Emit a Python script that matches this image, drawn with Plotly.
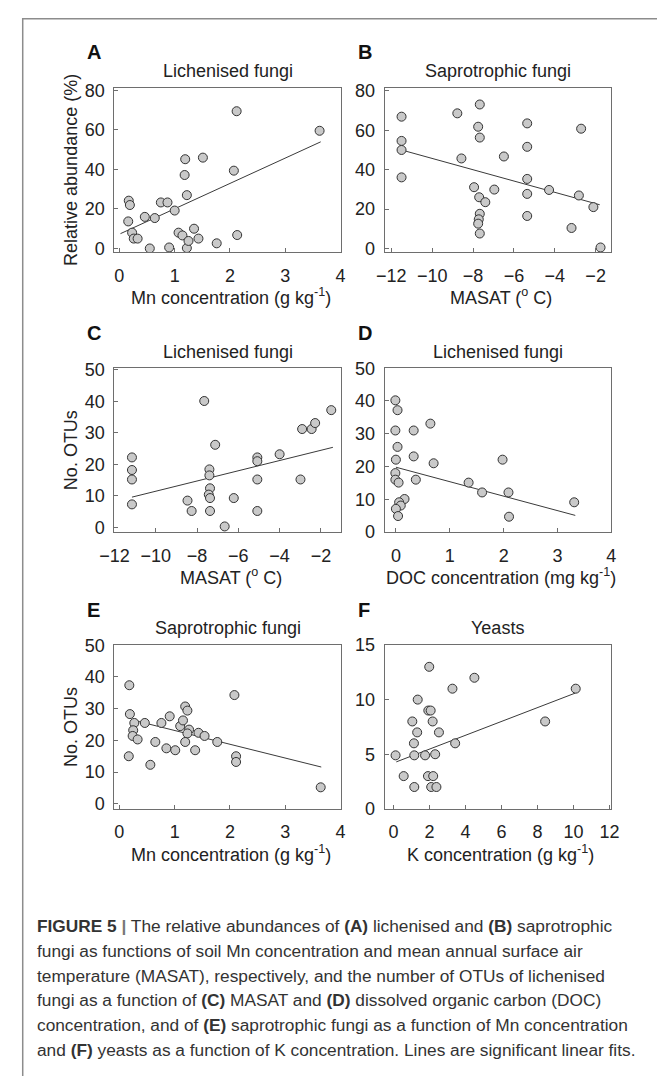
import plotly.graph_objects as go

W, H = 657, 1076

# ---------------- data ----------------
# A: Lichenised fungi relative abundance vs Mn
A_x = [0.17, 0.19, 0.16, 0.23, 0.26, 0.33, 0.46, 0.64, 0.55, 0.75, 0.87, 0.90, 1.00, 1.07,
       1.14, 1.19, 1.18, 1.22, 1.22, 1.25, 1.35, 1.43, 1.51, 1.76, 2.07, 2.12, 2.13, 3.62]
A_y = [24.2, 22.0, 13.7, 8.0, 5.0, 5.0, 16.0, 15.4, 0.0, 23.3, 23.3, 0.5, 19.2, 8.0,
       6.6, 45.2, 37.2, 27.0, 0.2, 3.8, 10.0, 5.0, 46.0, 2.6, 39.4, 69.5, 6.8, 59.6]
A_fit_x = [0.02, 3.64]
A_fit_y = [7.5, 54.0]

# B: Saprotrophic fungi relative abundance vs MASAT
B_x = [-11.5, -11.5, -11.5, -11.5, -8.77, -8.57, -7.67, -7.75, -7.67, -7.95, -7.70, -7.40,
       -7.67, -7.72, -7.75, -7.67, -6.96, -6.49, -5.35, -5.35, -5.35, -5.35, -5.35, -4.28,
       -2.82, -3.18, -2.71, -2.11, -1.76]
B_y = [66.9, 54.6, 50.0, 36.1, 68.6, 45.7, 73.1, 61.8, 56.3, 31.1, 26.0, 23.5,
       17.6, 14.8, 12.6, 7.6, 29.9, 46.7, 63.5, 51.6, 35.3, 27.7, 16.5, 29.7,
       26.9, 10.4, 60.8, 21.0, 0.5]
B_fit_x = [-11.5, -1.8]
B_fit_y = [50.0, 22.2]

# C: Lichenised fungi OTUs vs MASAT
C_x = [-11.15, -11.15, -11.15, -11.15, -7.65, -7.12, -7.40, -7.40, -7.37, -7.43, -7.37,
       -8.46, -8.26, -7.37, -6.22, -5.08, -5.08, -5.08, -5.08, -4.00, -2.99, -2.91,
       -2.45, -2.28, -1.50, -6.66]
C_y = [22.2, 18.2, 15.2, 7.3, 40.1, 26.2, 18.4, 16.5, 12.4, 10.4, 9.3,
       8.5, 5.2, 5.2, 9.3, 22.2, 21.0, 15.2, 5.2, 23.2, 15.2, 31.2,
       31.2, 33.1, 37.2, 0.3]
C_fit_x = [-11.15, -1.42]
C_fit_y = [9.6, 25.4]

# D: Lichenised fungi OTUs vs DOC
D_x = [-0.01, 0.03, -0.01, 0.33, 0.64, 0.03, 0.00, 0.33, 0.70, 1.98, -0.01, -0.01,
       0.05, 0.37, 1.35, 1.60, 2.09, 3.31, 0.16, 0.06, 0.09, 0.00, 0.04, 2.10]
D_y = [40.2, 37.2, 31.0, 31.0, 33.1, 26.0, 22.1, 23.1, 21.0, 22.1, 18.0, 16.0,
       15.1, 16.0, 15.1, 12.1, 12.1, 9.1, 10.1, 9.1, 8.1, 7.1, 4.9, 4.7]
D_fit_x = [0.0, 3.33]
D_fit_y = [19.8, 5.1]

# E: Saprotrophic fungi OTUs vs Mn
E_x = [0.18, 0.19, 0.27, 0.25, 0.24, 0.33, 0.17, 0.46, 0.56, 0.65, 0.76, 0.85, 0.91,
       1.01, 1.10, 1.15, 1.19, 1.23, 1.26, 1.23, 1.19, 1.37, 1.43, 1.54, 1.77, 2.08,
       2.11, 2.11, 3.64]
E_y = [37.4, 28.3, 25.5, 23.2, 21.4, 20.3, 15.0, 25.5, 12.3, 19.5, 25.5, 17.5, 27.6,
       16.9, 24.5, 26.3, 30.7, 29.4, 23.4, 22.2, 19.5, 16.9, 22.4, 21.4, 19.5, 34.3,
       15.0, 13.2, 5.2]
E_fit_x = [0.27, 3.65]
E_fit_y = [26.3, 11.6]

# F: Yeasts OTUs vs K
F_x = [1.98, 4.49, 3.27, 10.12, 1.34, 1.93, 2.06, 1.04, 2.17, 8.42, 1.31, 2.52, 1.13, 3.42,
       0.11, 1.15, 1.75, 2.31, 0.56, 1.91, 2.20, 1.15, 2.09, 2.38]
F_y = [13.0, 12.0, 11.0, 11.0, 10.0, 9.0, 9.0, 8.0, 8.0, 8.0, 7.0, 7.0, 6.0, 6.0,
       4.9, 4.9, 4.9, 5.0, 3.0, 3.0, 3.0, 2.0, 2.0, 2.0]
F_fit_x = [0.15, 10.1]
F_fit_y = [4.3, 10.6]

titles = ["Lichenised fungi", "Saprotrophic fungi", "Lichenised fungi",
          "Lichenised fungi", "Saprotrophic fungi", "Yeasts"]
letters = ["A", "B", "C", "D", "E", "F"]
x_titles = ["Mn concentration (g kg<sup>-1</sup>)", "MASAT (<sup>o</sup> C)",
            "MASAT (<sup>o</sup> C)", "DOC concentration (mg kg<sup>-1</sup>)",
            "Mn concentration (g kg<sup>-1</sup>)", "K concentration (g kg<sup>-1</sup>)"]
y_titles = ["Relative abundance (%)", None, "No. OTUs", None, "No. OTUs", None]
x_ticks = [[0, 1, 2, 3, 4], [-12, -10, -8, -6, -4, -2], [-12, -10, -8, -6, -4, -2],
           [0, 1, 2, 3, 4], [0, 1, 2, 3, 4], [0, 2, 4, 6, 8, 10, 12]]
y_ticks = [[0, 20, 40, 60, 80], [0, 20, 40, 60, 80], [0, 10, 20, 30, 40, 50],
           [0, 10, 20, 30, 40, 50], [0, 10, 20, 30, 40, 50], [0, 5, 10, 15]]

caption_lines = [
    "<b>FIGURE 5</b> <b><span style='color:#777777'>|</span></b> The relative abundances of <b>(A)</b> lichenised and <b>(B)</b> saprotrophic",
    "fungi as functions of soil Mn concentration and mean annual surface air",
    "temperature (MASAT), respectively, and the number of OTUs of lichenised",
    "fungi as a function of <b>(C)</b> MASAT and <b>(D)</b> dissolved organic carbon (DOC)",
    "concentration, and of <b>(E)</b> saprotrophic fungi as a function of Mn concentration",
    "and <b>(F)</b> yeasts as a function of K concentration. Lines are significant linear fits.",
]

# ---------------- layout geometry (pixels) ----------------
cols = [(103, 338), (383, 618)]
rows = [(79, 247), (365, 532), (647, 814)]
x_ranges = [[-0.09, 4.01], [-12.33, -1.23], [-12.0, -1.02], [-0.21, 4.0], [-0.09, 4.01], [-0.5, 12.1]]
y_ranges = [[-2, 81.5], [-2, 81.7], [-1.5, 50.5], [0, 50], [-1.6, 50.1], [0, 15]]

data = [(A_x, A_y, A_fit_x, A_fit_y), (B_x, B_y, B_fit_x, B_fit_y),
        (C_x, C_y, C_fit_x, C_fit_y), (D_x, D_y, D_fit_x, D_fit_y),
        (E_x, E_y, E_fit_x, E_fit_y), (F_x, F_y, F_fit_x, F_fit_y)]

FONT = "Liberation Sans, Arial, sans-serif"
TXT = "#222222"
AXC = "#6e6e6e"

def px(x):
    return x / W

def py(y):
    return 1 - y / H

fig = go.Figure()
annotations = []
layout_axes = {}

for i, (xs, ys, fx, fy) in enumerate(data):
    r, c = divmod(i, 2)
    x0, x1 = cols[c]
    y0, y1 = rows[r]
    sfx = "" if i == 0 else str(i + 1)
    fig.add_trace(go.Scatter(x=fx, y=fy, mode="lines", line=dict(color="#3a3a3a", width=1),
                             xaxis="x" + sfx, yaxis="y" + sfx, showlegend=False, hoverinfo="skip"))
    fig.add_trace(go.Scatter(x=xs, y=ys, mode="markers",
                             marker=dict(size=9, color="#c9c9c9", line=dict(color="#333333", width=1)),
                             xaxis="x" + sfx, yaxis="y" + sfx, showlegend=False))
    common = dict(showline=True, mirror=True, linecolor=AXC, linewidth=1, ticks="inside",
                  ticklen=4, tickcolor=AXC, showgrid=False, zeroline=False,
                  tickfont=dict(family=FONT, size=18, color=TXT))
    layout_axes["xaxis" + sfx] = dict(common, domain=[px(x0), px(x1)], range=x_ranges[i],
                                      tickvals=x_ticks[i], anchor="y" + sfx,
                                      ticklabelstandoff=7)
    layout_axes["yaxis" + sfx] = dict(common, domain=[py(y1), py(y0)], range=y_ranges[i],
                                      tickvals=y_ticks[i], anchor="x" + sfx,
                                      ticklabelstandoff=5)
    cx = (x0 + x1) / 2
    # title
    annotations.append(dict(text=titles[i], x=px(cx), y=py(y0 - 17), xref="paper", yref="paper",
                            xanchor="center", yanchor="middle", showarrow=False,
                            font=dict(family=FONT, size=18, color=TXT)))
    # panel letter
    annotations.append(dict(text="<b>" + letters[i] + "</b>", x=px(x0 - 30), y=py(y0 - 36),
                            xref="paper", yref="paper", xanchor="left", yanchor="middle",
                            showarrow=False, font=dict(family=FONT, size=20, color="#111111")))
    # x title
    annotations.append(dict(text=x_titles[i], x=px(cx + 3), y=py(y1 + 45), xref="paper", yref="paper",
                            xanchor="center", yanchor="middle", showarrow=False,
                            font=dict(family=FONT, size=18, color=TXT)))
    if y_titles[i]:
        annotations.append(dict(text=y_titles[i], x=px(58), y=py((y0 + y1) / 2), xref="paper",
                                yref="paper", xanchor="center", yanchor="middle", textangle=-90,
                                showarrow=False, font=dict(family=FONT, size=18, color=TXT)))

cap_y = [933, 959, 984, 1009, 1034, 1060]
for line, yy in zip(caption_lines, cap_y):
    annotations.append(dict(text=line, x=px(21), y=py(yy), xref="paper", yref="paper",
                            xanchor="left", yanchor="middle", showarrow=False,
                            font=dict(family=FONT, size=17.3, color="#333333")))

shapes = [dict(type="rect", xref="paper", yref="paper", x0=px(8), x1=1.05, y0=-0.05, y1=py(9),
               line=dict(color="#8c8c8c", width=1.5), fillcolor="rgba(0,0,0,0)")]

fig.update_layout(width=W, height=H, margin=dict(l=0, r=0, t=0, b=0),
                  paper_bgcolor="white", plot_bgcolor="white",
                  annotations=annotations, shapes=shapes, **layout_axes)

fig.write_html("out.html")
